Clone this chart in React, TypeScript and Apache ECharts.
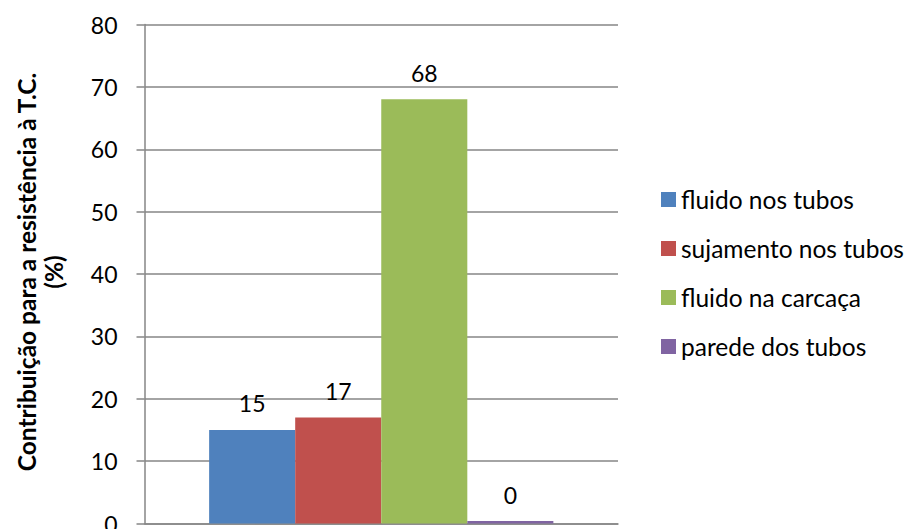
import React, { useEffect, useRef } from "react";
import * as echarts from "echarts";

// Single category; each series is one resistance contribution (%)
const categories = [""];
const seriesNames = [
  "fluido nos tubos",
  "sujamento nos tubos",
  "fluido na carcaça",
  "parede dos tubos",
];
const seriesValues = [15, 17, 68, 0.4];
const seriesColors = ["#4F81BD", "#C0504D", "#9BBB59", "#8064A2"];
const yTicks = { min: 0, max: 80, interval: 10 };
const yTitle = "Contribuição para a resistência à T.C.\n(%)";

const FONT = "Lato";

export default function App() {
  const ref = useRef<HTMLDivElement>(null);

  useEffect(() => {
    if (!ref.current) return;
    const chart = echarts.init(ref.current, undefined, { renderer: "svg" });
    chart.setOption({
      animation: false,
      textStyle: { fontFamily: FONT },
      grid: {
        left: 144.5,
        width: 473.5,
        top: 24.5,
        height: 499,
        containLabel: false,
        outerBoundsMode: "none",
      },
      legend: {
        orient: "vertical",
        left: 661,
        top: 187,
        padding: 0,
        itemWidth: 15,
        itemHeight: 15,
        itemGap: 24,
        icon: "rect",
        textStyle: { fontFamily: FONT, fontSize: 24.5, color: "#000" },
        data: seriesNames,
      },
      xAxis: {
        type: "category",
        data: categories,
        axisLine: { lineStyle: { color: "#868686", width: 1.5 } },
        axisTick: { show: false },
        axisLabel: { show: false },
      },
      yAxis: {
        type: "value",
        min: yTicks.min,
        max: yTicks.max,
        interval: yTicks.interval,
        axisLine: { show: true, lineStyle: { color: "#868686", width: 1.5 } },
        axisTick: { show: true, length: 8, inside: false, lineStyle: { color: "#868686", width: 1.5 } },
        axisLabel: { margin: 27, color: "#000", fontFamily: FONT, fontSize: 23 },
        splitLine: { show: true, lineStyle: { color: "#868686", width: 1.5 } },
      },
      graphic: [
        {
          type: "text",
          x: 40,
          y: 272,
          rotation: Math.PI / 2,
          style: {
            text: yTitle,
            fontFamily: FONT,
            fontWeight: "bold",
            fontSize: 24.5,
            lineHeight: 27,
            fill: "#000",
            align: "center",
            verticalAlign: "middle",
          },
        },
      ],
      series: seriesNames.map((name, i) => ({
        name,
        type: "bar",
        data: [seriesValues[i]],
        barGap: "0%",
        barCategoryGap: "27.3%",
        itemStyle: { color: seriesColors[i] },
        label: {
          show: true,
          position: "top",
          distance: 15,
          color: "#000",
          fontFamily: FONT,
          fontSize: 23,
          formatter: (p: any) => String(Math.round(p.value)),
        },
      })),
    });
    return () => chart.dispose();
  }, []);

  return (
    <div
      ref={ref}
      style={{ position: "absolute", left: 0, top: 0, width: 911, height: 529, background: "#fff" }}
    />
  );
}
